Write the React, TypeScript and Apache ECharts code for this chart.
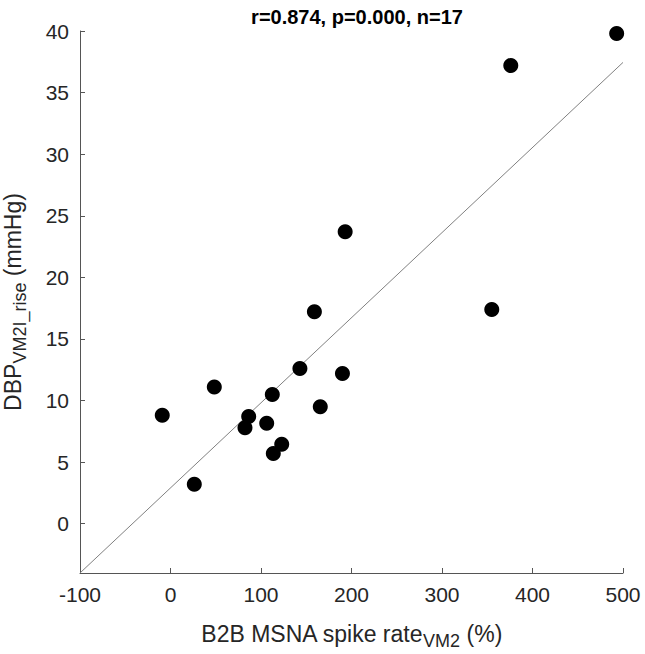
import React, { useEffect, useRef } from "react";
import * as echarts from "echarts";

const xValues = [493, 376, 193, 159, 355, 143, 190, 112.5, 165.5, 48.4, -9.1, 86.4, 82.3, 106.3, 122.9, 113.6, 26.3];
const yValues = [39.8, 37.2, 23.7, 17.2, 17.4, 12.6, 12.2, 10.5, 9.5, 11.1, 8.8, 8.7, 7.8, 8.15, 6.45, 5.7, 3.2];
const fitX = [-100, 500];
const fitY = [-4.0, 37.45];
const xTicks = [-100, 0, 100, 200, 300, 400, 500];
const yTicks = [0, 5, 10, 15, 20, 25, 30, 35, 40];
const titleText = "r=0.874, p=0.000, n=17";

export default function App() {
  const ref = useRef<HTMLDivElement>(null);
  useEffect(() => {
    if (!ref.current) return;
    const chart = echarts.init(ref.current, null, { renderer: "svg" });
    const textColor = "#262626";
    const axisColor = "#555555";
    const font = "Liberation Sans, Arial, sans-serif";
    chart.setOption({
      animation: false,
      backgroundColor: "#ffffff",
      title: {
        text: titleText,
        left: 352,
        top: 2,
        textAlign: "center",
        textStyle: { fontFamily: font, fontSize: 20, fontWeight: "bold", color: "#000" },
      },
      grid: { left: 80, right: 22, top: 31, bottom: 81, containLabel: false, outerBoundsMode: "none" },
      xAxis: {
        type: "value",
        min: -100,
        max: 500,
        interval: 100,
        name: "{a|B2B MSNA spike rate}{b|VM2}{a| (%)}",
        nameLocation: "middle",
        nameGap: 45,
        nameTextStyle: {
          rich: {
            a: { fontFamily: font, fontSize: 23, color: textColor },
            b: { fontFamily: font, fontSize: 18, color: textColor, padding: [14, 0, 0, 0] },
          },
        },
        axisLine: { show: true, onZero: false, lineStyle: { color: axisColor, width: 1 } },
        axisTick: { show: true, inside: true, length: 5, lineStyle: { color: axisColor } },
        axisLabel: { fontFamily: font, fontSize: 21, color: textColor, margin: 11, customValues: xTicks },
        splitLine: { show: false },
      },
      yAxis: {
        type: "value",
        min: -4,
        max: 40,
        name: "{a|DBP}{b|VM2I_rise}{a| (mmHg)}",
        nameLocation: "middle",
        nameRotate: 90,
        nameGap: 51,
        nameTextStyle: {
          rich: {
            a: { fontFamily: font, fontSize: 23, color: textColor },
            b: { fontFamily: font, fontSize: 18, color: textColor, padding: [14, 0, 0, 0] },
          },
        },
        axisLine: { show: true, onZero: false, lineStyle: { color: axisColor, width: 1 } },
        axisTick: { show: true, inside: true, length: 5, lineStyle: { color: axisColor }, customValues: yTicks },
        axisLabel: { fontFamily: font, fontSize: 21, color: textColor, margin: 11, customValues: yTicks },
        splitLine: { show: false },
      },
      series: [
        {
          type: "line",
          data: fitX.map((x, i) => [x, fitY[i]]),
          symbol: "none",
          lineStyle: { color: "#808080", width: 1 },
          silent: true,
          z: 1,
        },
        {
          type: "scatter",
          data: xValues.map((x, i) => [x, yValues[i]]),
          symbol: "circle",
          symbolSize: 15,
          itemStyle: { color: "#000000", opacity: 1 },
          z: 2,
        },
      ],
    });
    return () => chart.dispose();
  }, []);
  return <div ref={ref} style={{ width: 645, height: 654, position: "absolute", left: 0, top: 0 }} />;
}
